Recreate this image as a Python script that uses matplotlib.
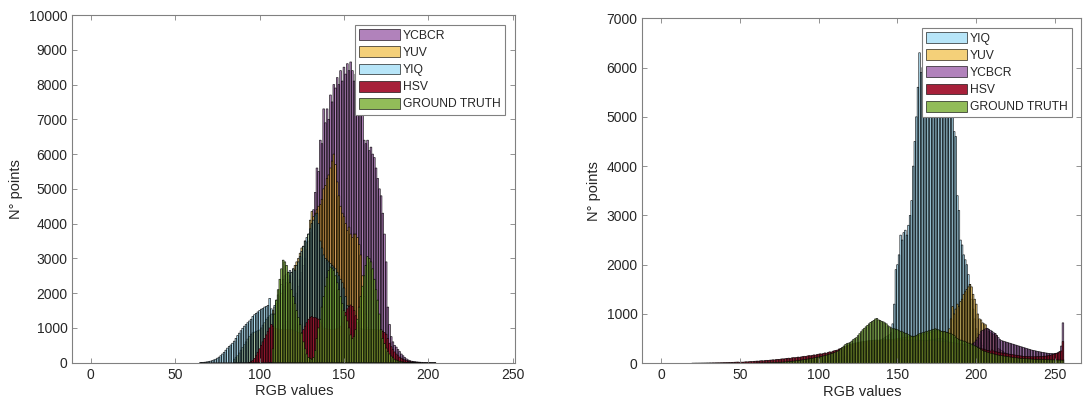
#Importamos librerias
import matplotlib
matplotlib.use('Agg')
import matplotlib.pyplot as plt
import numpy as np

plt.rcParams['font.family'] = ['Liberation Sans', 'DejaVu Sans']

# ---------------- Datos panel izquierdo (bin inicial + conteos por bin) ----------------
l_ycbcr_start = 95
l_ycbcr = [20, 30, 40, 60, 80, 100, 130, 160, 200, 240,
           290, 340, 400, 470, 540, 620, 700, 790, 880, 980,
           1080, 1190, 1300, 1420, 1550, 1700, 1850, 2000, 2200, 2400,
           2600, 2800, 3000, 3250, 3500, 3750, 4000, 4400, 4900, 5600,
           5500, 6400, 6300, 7300, 6900, 7300, 7000, 7700, 7500, 8000,
           7900, 8200, 8000, 8400, 8100, 8500, 8300, 8600, 8400, 8650,
           8400, 8100, 8300, 7900, 7600, 7400, 7200, 6400, 6300, 6400,
           6100, 6200, 6000, 5900, 5600, 5300, 5000, 4800, 4300, 3700,
           2900, 1600, 1100, 750, 600, 500, 450, 380, 320, 250,
           200, 150, 110, 80, 60, 45, 38, 30, 24, 19,
           15, 12, 9, 7, 6, 5, 4, 3, 2, 1]

l_yuv_start = 85
l_yuv = [100, 150, 200, 280, 360, 440, 520, 600, 680, 760,
         820, 860, 880, 900, 920, 940, 1000, 1080, 1150, 1250,
         1300, 1350, 1400, 1500, 1600, 1700, 1800, 1900, 2000, 2100,
         2200, 2300, 2400, 2500, 2600, 2700, 2800, 2900, 3000, 3150,
         3300, 3350, 3500, 3450, 3700, 4100, 4350, 4200, 4300, 4400,
         4500, 4550, 4700, 5000, 5100, 5300, 5400, 5600, 5800, 6000,
         5700, 5200, 4800, 4500, 4300, 4200, 4000, 3800, 3900, 3700,
         3600, 3700, 3700, 3600, 3400, 3100, 2500, 1900, 1400, 1000,
         750, 560, 420, 320, 250, 190, 150, 120, 95, 75,
         60, 48, 38, 30, 24, 19, 15, 12, 9, 7,
         5, 4, 3, 2, 1]

l_yiq_start = 65
l_yiq = [5, 8, 12, 18, 25, 35, 45, 60, 80, 100,
         130, 160, 200, 250, 300, 360, 420, 470, 510, 560,
         620, 700, 780, 850, 920, 990, 1050, 1100, 1150, 1200,
         1250, 1330, 1380, 1420, 1460, 1500, 1540, 1560, 1600, 1620,
         1650, 1850, 1550, 1400, 1650, 1800, 1950, 2100, 2250, 2400,
         2500, 2550, 2600, 2650, 2600, 2700, 2650, 2800, 2900, 3050,
         3200, 3350, 3500, 3600, 3700, 3850, 4000, 4100, 4250, 4300,
         4000, 3500, 3300, 3100, 3000, 2950, 2900, 2850, 2800, 2750,
         2700, 2600, 2500, 2400, 2300, 2150, 1900, 1650, 1400, 1250,
         1150, 1050, 950, 900, 850, 800, 750, 700, 650, 600,
         550, 500, 450, 400, 350, 300, 250, 210, 170, 140,
         110, 90, 70, 55, 42, 32, 25, 18, 13, 9,
         6, 4, 3, 2, 1]

l_hsv_start = 94
l_hsv = [10, 30, 60, 120, 200, 300, 400, 500, 600, 700,
         800, 900, 1000, 1100, 1050, 1000, 980, 970, 960, 960,
         960, 960, 960, 960, 960, 950, 940, 930, 900, 870,
         850, 860, 950, 1050, 1150, 1250, 1300, 1330, 1300, 1300,
         1280, 1250, 1150, 1050, 1000, 980, 970, 960, 960, 960,
         960, 970, 980, 1000, 1050, 1150, 1300, 1450, 1550, 1620,
         1660, 1620, 1500, 1350, 1150, 1000, 980, 970, 960, 960,
         960, 960, 960, 960, 960, 950, 950, 940, 920, 900,
         870, 820, 700, 560, 460, 380, 310, 250, 200, 160,
         130, 100, 80, 60, 45, 35, 25, 18, 12, 8, 5, 3]

l_gt_start = 106
l_gt = [0, 0, 400, 1400, 1800, 2100, 2400, 2700, 2950, 2900,
        2800, 2600, 2300, 2100, 1900, 1700, 1500, 1300, 1100, 850,
        600, 400, 250, 150, 120, 100, 150, 350, 700, 1000,
        1250, 1600, 1900, 2200, 2450, 2650, 2750, 2700, 2650, 2500,
        2300, 2100, 1900, 1700, 1500, 1350, 1200, 1000, 800, 700,
        750, 950, 1250, 1600, 1900, 2200, 2500, 2800, 3050, 3000,
        2900, 2700, 2400, 2100, 1800, 1400, 950, 700, 550, 420,
        320, 250, 190, 140, 100, 75, 55, 40, 30, 20,
        15, 10, 7, 5, 3, 2, 1]

# ---------------- Datos panel derecho ----------------
r_yiq_start = 100
r_yiq = [10, 12, 14, 16, 18, 20, 24, 28, 32, 36,
         40, 45, 50, 56, 62, 70, 78, 86, 95, 105,
         115, 125, 140, 155, 170, 185, 200, 220, 240, 260,
         280, 300, 320, 340, 360, 380, 400, 420, 440, 460,
         480, 500, 520, 540, 560, 580, 620, 800, 1200, 1900,
         2000, 2200, 2600, 2500, 2650, 2700, 2600, 2800, 3000, 3300,
         4000, 4500, 5000, 5600, 6300, 5900, 6000, 6100, 6200, 6100,
         6000, 5900, 6000, 5800, 5900, 5700, 5600, 5500, 5400, 5400,
         5200, 5100, 5100, 5000, 5000, 5000, 4700, 4600, 3400, 3100,
         2500, 2400, 2200, 2100, 2000, 1800, 1600, 1300, 1100, 900,
         700, 600, 500, 420, 360, 300, 260, 220, 190, 160,
         140, 130, 120, 110, 100, 90, 85, 80, 75, 70,
         65, 60, 56, 52, 50, 48, 46, 44, 42, 40,
         38, 36, 35, 34, 33, 32, 31, 30, 29, 28,
         27, 26, 26, 25, 25, 24, 24, 23, 23, 22,
         22, 21, 21, 20, 20, 20]

r_yuv_start = 100
r_yuv = [20, 24, 28, 32, 36, 40, 45, 50, 56, 62,
         70, 80, 90, 100, 110, 120, 132, 145, 158, 170,
         182, 195, 210, 225, 240, 255, 270, 285, 300, 315,
         330, 345, 360, 375, 390, 400, 410, 420, 430, 440,
         450, 455, 460, 465, 470, 475, 480, 485, 490, 495,
         500, 505, 510, 515, 520, 525, 530, 535, 540, 545,
         530, 540, 550, 565, 570, 575, 580, 590, 600, 610,
         620, 630, 640, 650, 660, 670, 660, 650, 640, 630,
         640, 630, 620, 700, 900, 1150, 1000, 1100, 1200, 1150,
         1250, 1300, 1400, 1450, 1500, 1550, 1600, 1550, 1400, 1300,
         1200, 1000, 900, 880, 820, 800, 780, 700, 650, 620,
         600, 580, 600, 560, 300, 280, 260, 240, 220, 200,
         190, 180, 170, 160, 150, 140, 135, 130, 125, 120,
         115, 110, 105, 100, 96, 92, 88, 85, 82, 80,
         78, 76, 74, 72, 70, 68, 66, 64, 62, 60,
         60, 60, 60, 60, 60, 80]

r_ycbcr_start = 100
r_ycbcr = [15, 18, 21, 24, 28, 32, 36, 40, 45, 50,
           56, 62, 70, 78, 86, 95, 105, 115, 125, 135,
           145, 155, 165, 175, 185, 195, 205, 215, 225, 235,
           245, 255, 265, 275, 285, 295, 300, 305, 310, 315,
           320, 325, 330, 335, 340, 345, 350, 355, 360, 365,
           370, 375, 380, 385, 390, 395, 400, 405, 410, 415,
           420, 425, 430, 435, 440, 445, 450, 455, 460, 465,
           470, 475, 480, 485, 490, 495, 500, 505, 510, 500,
           480, 460, 440, 420, 410, 400, 395, 390, 385, 380,
           375, 372, 370, 368, 366, 365, 370, 380, 400, 430,
           470, 520, 580, 640, 670, 680, 700, 710, 690, 670,
           650, 620, 600, 560, 520, 480, 460, 450, 440, 430,
           420, 410, 400, 390, 380, 370, 360, 350, 340, 330,
           320, 310, 300, 290, 280, 270, 262, 255, 248, 240,
           234, 228, 222, 216, 210, 205, 200, 198, 196, 195,
           200, 205, 215, 240, 350, 820]

r_hsv_start = 20
r_hsv = [2, 2, 3, 3, 3, 4, 4, 5, 5, 6,
         6, 7, 7, 8, 8, 9, 10, 10, 11, 12,
         13, 14, 15, 16, 18, 19, 20, 22, 24, 25,
         20, 24, 22, 27, 30, 28, 33, 36, 34, 40,
         42, 45, 43, 50, 52, 49, 56, 60, 58, 63,
         66, 70, 68, 75, 80, 78, 85, 90, 88, 95,
         100, 104, 98, 110, 115, 112, 120, 126, 122, 130,
         136, 142, 138, 150, 156, 152, 162, 170, 166, 178,
         185, 192, 188, 200, 210, 205, 220, 232, 226, 245,
         255, 262, 270, 290, 300, 310, 325, 340, 355, 370,
         380, 390, 400, 410, 415, 420, 430, 435, 440, 445,
         450, 455, 460, 462, 465, 468, 470, 472, 470, 472,
         475, 474, 476, 478, 475, 476, 478, 475, 474, 476,
         476, 475, 472, 474, 476, 475, 472, 470, 472, 475,
         474, 472, 470, 472, 470, 468, 470, 468, 466, 465,
         465, 462, 460, 462, 458, 455, 452, 450, 448, 445,
         440, 436, 432, 430, 425, 420, 416, 410, 405, 400,
         395, 390, 385, 380, 375, 370, 365, 358, 350, 340,
         330, 320, 310, 300, 290, 280, 270, 262, 255, 248,
         270, 250, 240, 230, 220, 215, 210, 205, 200, 195,
         190, 185, 180, 175, 170, 165, 160, 155, 150, 145,
         140, 138, 136, 135, 134, 133, 132, 132, 133, 134,
         135, 137, 140, 142, 145, 150, 155, 160, 170, 180,
         190, 200, 210, 230, 250, 440]

r_gt_start = 60
r_gt = [3, 4, 4, 5, 6, 6, 7, 8, 9, 10,
        11, 12, 14, 15, 17, 19, 21, 23, 25, 28,
        31, 34, 37, 40, 44, 48, 52, 56, 60, 65,
        70, 75, 80, 85, 90, 96, 102, 108, 114, 120,
        126, 132, 140, 148, 156, 165, 175, 185, 195, 205,
        215, 230, 245, 265, 290, 320, 350, 380, 400, 410,
        420, 450, 480, 500, 520, 560, 600, 640, 680, 710,
        740, 770, 800, 830, 850, 870, 900, 910, 880, 870,
        850, 840, 820, 800, 760, 740, 720, 700, 700, 690,
        680, 660, 650, 640, 620, 610, 600, 580, 560, 550,
        540, 550, 560, 580, 600, 610, 620, 630, 640, 650,
        660, 670, 680, 690, 700, 690, 680, 660, 650, 640,
        640, 630, 620, 610, 600, 580, 560, 530, 500, 480,
        470, 460, 450, 440, 420, 410, 400, 390, 370, 355,
        340, 320, 300, 280, 260, 245, 237, 225, 215, 205,
        200, 190, 180, 172, 165, 160, 155, 150, 145, 140,
        135, 130, 125, 120, 116, 112, 108, 104, 100, 98,
        96, 94, 92, 90, 88, 86, 84, 82, 80, 79,
        78, 77, 76, 75, 74, 73, 72, 71, 70, 69,
        68, 67, 66, 65, 64, 62]

# Colores (estilo MATLAB) y transparencias de cada serie
colores = {
    'YCBCR': ((0.494, 0.184, 0.556), 0.6),
    'YUV': ((0.929, 0.694, 0.125), 0.6),
    'YIQ': ((0.301, 0.745, 0.933), 0.4),
    'HSV': ((0.635, 0.078, 0.184), 0.95),
    'GROUND TRUTH': ((0.466, 0.674, 0.188), 0.8),
}

gris = '#808080'
texto = '#262626'


#Función que dibuja un histograma a partir del bin inicial y los conteos
def dibujar_hist(ax, nombre, inicio, conteos):
    x = np.arange(inicio, inicio + len(conteos))
    color, alfa = colores[nombre]
    barras = ax.bar(x, conteos, width=1.0, align='center',
                    facecolor=(*color, alfa), edgecolor=(0, 0, 0, 0.85),
                    linewidth=0.5, label=nombre)
    for b in barras:
        b.set_snap(False)


def formato_ejes(ax, ymax, xlim, ancla):
    ax.set_xlim(*xlim)
    ax.set_ylim(0, ymax)
    ax.set_xticks(np.arange(0, 251, 50))
    ax.set_yticks(np.arange(0, ymax + 1, 1000))
    ax.tick_params(direction='in', top=True, right=True, length=3.5,
                   width=0.6, color=gris, labelcolor=texto, labelsize=10)
    for s in ax.spines.values():
        s.set_color(gris)
        s.set_linewidth(0.8)
    ax.set_xlabel('RGB values', fontsize=10.5, color=texto, labelpad=2)
    ax.set_ylabel('N° points', fontsize=10.5, color=texto)
    leg = ax.legend(loc='upper right', bbox_to_anchor=ancla, borderaxespad=0,
                    fontsize=8.7, handlelength=3.4, handleheight=1.0,
                    labelspacing=0.38, handletextpad=0.25, borderpad=0.35,
                    fancybox=False, framealpha=1, edgecolor=gris)
    leg.get_frame().set_linewidth(0.8)
    for t in leg.get_texts():
        t.set_color(texto)


fig = plt.figure(figsize=(10.83, 4.05), dpi=100)
ax1 = fig.add_axes([0.0668, 0.1044, 0.4090, 0.8585])
ax2 = fig.add_axes([0.5931, 0.1030, 0.4054, 0.8519])

# Panel izquierdo
dibujar_hist(ax1, 'YCBCR', l_ycbcr_start, l_ycbcr)
dibujar_hist(ax1, 'YUV', l_yuv_start, l_yuv)
dibujar_hist(ax1, 'YIQ', l_yiq_start, l_yiq)
dibujar_hist(ax1, 'HSV', l_hsv_start, l_hsv)
dibujar_hist(ax1, 'GROUND TRUTH', l_gt_start, l_gt)
formato_ejes(ax1, 10000, (-10.9, 251.5), (0.977, 0.971))

# Panel derecho
dibujar_hist(ax2, 'YIQ', r_yiq_start, r_yiq)
dibujar_hist(ax2, 'YUV', r_yuv_start, r_yuv)
dibujar_hist(ax2, 'YCBCR', r_ycbcr_start, r_ycbcr)
dibujar_hist(ax2, 'HSV', r_hsv_start, r_hsv)
dibujar_hist(ax2, 'GROUND TRUTH', r_gt_start, r_gt)
formato_ejes(ax2, 7000, (-11.9, 266.7), (0.979, 0.972))

fig.savefig('out.png', dpi=100)
